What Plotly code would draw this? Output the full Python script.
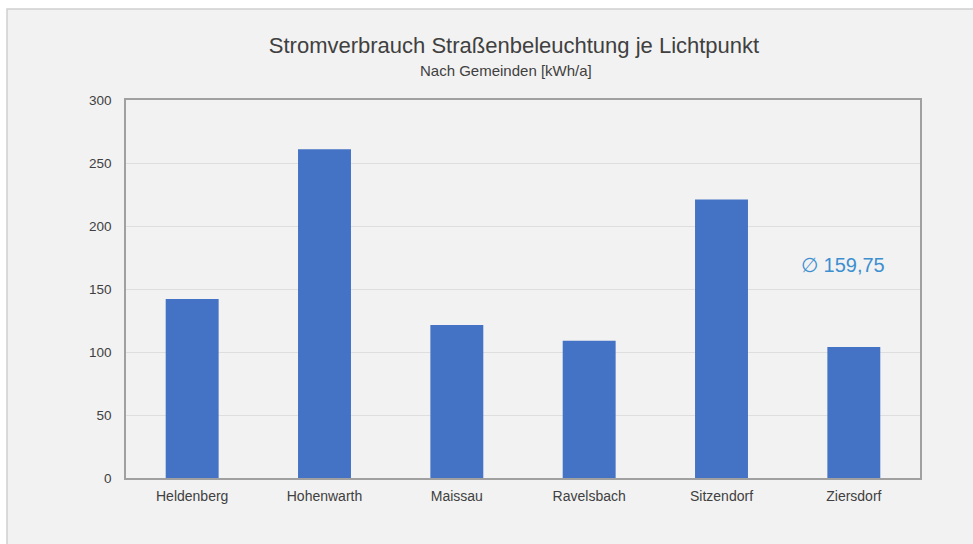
import plotly.graph_objects as go

categories = ["Heldenberg", "Hohenwarth", "Maissau", "Ravelsbach", "Sitzendorf", "Ziersdorf"]
values = [142, 261, 121.5, 109, 221, 104]
average_label = "∅ 159,75"
title_text = "Stromverbrauch Straßenbeleuchtung je Lichtpunkt"
subtitle_text = "Nach Gemeinden [kWh/a]"
y_ticks = [0, 50, 100, 150, 200, 250, 300]

W, H = 973, 544
L, R, T, B = 126, 53, 100, 66
pw, ph = W - L - R, H - T - B

def px(x):
    return (x - L) / pw

def py(y):
    return (H - B - y) / ph

fig = go.Figure()
fig.add_trace(go.Bar(
    x=categories, y=values,
    marker=dict(color="#4472c4", line=dict(width=0)),
    width=0.4,
))

# outer panel
fig.add_shape(type="rect", xref="paper", yref="paper",
              x0=px(7), x1=px(990), y0=py(9), y1=py(560),
              fillcolor="#f2f2f2", line=dict(color="#d0d0d0", width=1.5),
              layer="below")

fig.add_annotation(text=subtitle_text, xref="paper", yref="paper",
                   x=px(506), y=py(70), xanchor="center", yanchor="middle", showarrow=False,
                   font=dict(family="Liberation Sans, Arial, sans-serif", size=15, color="#404040"))
fig.add_annotation(text=average_label, xref="paper", yref="paper",
                   x=px(799), y=py(265), xanchor="left", yanchor="middle", showarrow=False,
                   font=dict(family="Liberation Sans, Arial, sans-serif", size=20, color="#3d8fd0"))

fig.update_layout(
    width=W, height=H,
    margin=dict(l=L, r=R, t=T, b=B),
    paper_bgcolor="white",
    plot_bgcolor="white",
    showlegend=False,
    bargap=0.6,
    title=dict(text=title_text, x=px(514), xref="paper", xanchor="center",
               y=1 - 45 / H, yref="container", yanchor="middle",
               font=dict(family="Liberation Sans, Arial, sans-serif", size=22, color="#404040")),
    font=dict(family="Liberation Sans, Arial, sans-serif", size=13, color="#404040"),
)
fig.update_yaxes(range=[0, 300], tickvals=y_ticks, ticktext=[str(v) for v in y_ticks],
                 showgrid=True, gridcolor="#dedede", gridwidth=1,
                 showline=True, linecolor="#a0a0a0", linewidth=1.5, mirror=True,
                 zeroline=False, ticks="", ticklabelstandoff=10,
                 tickfont=dict(size=13.5, color="#404040"), fixedrange=True)
fig.update_xaxes(showline=True, linecolor="#a0a0a0", linewidth=1.5, mirror=True,
                 showgrid=False, ticks="", ticklabelstandoff=4,
                 tickfont=dict(size=14, color="#404040"), fixedrange=True)

fig.write_html("out.html", config={"displayModeBar": False},
               post_script="document.body.style.margin='0';document.body.style.overflow='hidden';")
